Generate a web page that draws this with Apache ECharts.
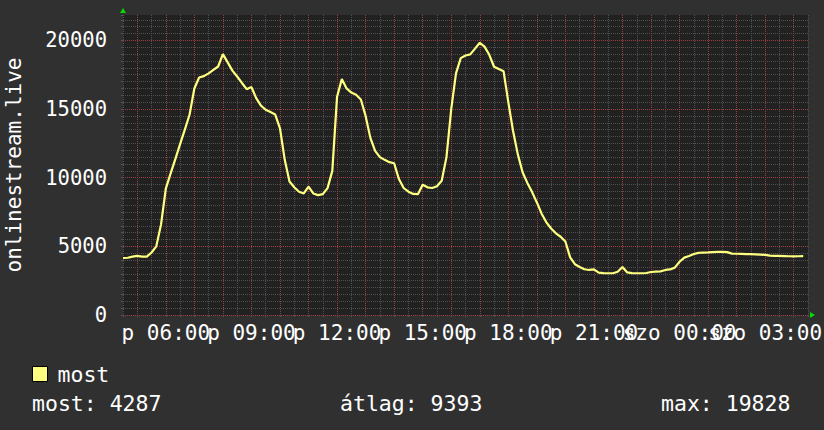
<!DOCTYPE html>
<html>
<head>
<meta charset="utf-8">
<title>onlinestream.live</title>
<script src="https://cdn.jsdelivr.net/npm/echarts@6/dist/echarts.min.js"></script>
<style>
  html, body {
    margin: 0;
    padding: 0;
    background: #303030;
  }
  #chart {
    width: 824px;
    height: 430px;
  }
  /* pontozott rácsvonalak pixelre igazítva, mint az rrdtool-nál */
  #chart svg path[stroke-dasharray] {
    shape-rendering: crispEdges;
  }
</style>
</head>
<body>
<div id="chart"></div>
<script>
// minták 10 percenként, 04:30-tól
const startHour = 4.5;
const endHour = 28.5;
const stepMinutes = 10;
const viewers = [
  4150, 4170, 4250, 4300, 4250, 4250, 4550, 5000, 6600, 9200,
  10300, 11350, 12450, 13500, 14600, 16500, 17300, 17400, 17600, 17850,
  18100, 19000, 18400, 17800, 17370, 16900, 16450, 16600, 15800, 15250,
  14950, 14780, 14600, 13600, 11300, 9720, 9300, 8980, 8850, 9350,
  8850, 8730, 8800, 9240, 10500, 15900, 17180, 16500, 16200, 16040,
  15700, 14500, 12900, 11950, 11500, 11300, 11130, 11050, 9900, 9250,
  8980, 8820, 8800, 9480, 9300, 9250, 9380, 9780, 11500, 15000,
  17600, 18710, 18900, 18980, 19400, 19828, 19550, 18950, 18080, 17920,
  17760, 15500, 13400, 11700, 10400, 9620, 8950, 8200, 7380, 6750,
  6300, 5950, 5700, 5350, 4200, 3700, 3500, 3330, 3280, 3320,
  3080, 3050, 3040, 3040, 3150, 3500, 3100, 3050, 3040, 3040,
  3060, 3130, 3160, 3180, 3280, 3320, 3450, 3880, 4180, 4300,
  4440, 4520, 4550, 4560, 4580, 4600, 4600, 4580, 4470, 4460,
  4450, 4440, 4430, 4420, 4400, 4380, 4320, 4310, 4300, 4290,
  4280, 4270, 4280, 4287
];

const xLabelHours = [6, 9, 12, 15, 18, 21, 24, 27];
const xLabels = ['p 06:00', 'p 09:00', 'p 12:00', 'p 15:00', 'p 18:00', 'p 21:00', 'szo 00:00', 'szo 03:00'];
const yLabels = [0, 5000, 10000, 15000, 20000];

const statNames = ['most', 'átlag', 'max'];
const statValues = [4287, 9393, 19828];

const font = 'DejaVu Sans Mono';
const lineColor = '#ffff80';
const minorGrid = '#505050';
const majorGrid = '#9a3e3e';

const points = viewers.map((v, i) => [startHour + i * stepMinutes / 60, v]);

// félórás rácshelyek a piros (egész órás) vonalakhoz
const halfHourSlots = [];
for (let h = startHour; h <= endHour + 1e-9; h += 0.5) {
  halfHourSlots.push(String(h));
}

const chart = echarts.init(document.getElementById('chart'), null, { renderer: 'svg' });

const hiddenAxis = {
  z: 3,
  axisLine: { show: false },
  axisTick: { show: false },
  axisLabel: { show: false }
};

const option = {
  backgroundColor: '#303030',
  animation: false,
  grid: {
    left: 123,
    right: 16,
    top: 15,
    bottom: 115,
    show: true,
    backgroundColor: '#212121',
    borderWidth: 0,
    containLabel: false,
    outerBoundsMode: 'none'
  },
  legend: {
    data: [{
      name: 'most',
      icon: 'rect',
      itemStyle: { color: lineColor, borderColor: '#000', borderWidth: 1 }
    }],
    left: 32,
    top: 363,
    padding: 0,
    itemWidth: 15,
    itemHeight: 15,
    textStyle: {
      color: '#fff',
      fontFamily: font,
      fontSize: 21.5,
      lineHeight: 21,
      padding: [0, 0, 0, 5]
    }
  },
  xAxis: [{
    type: 'value',
    z: 1,
    min: startHour,
    max: endHour,
    interval: 0.5,
    axisLine: {
      show: true,
      symbol: ['none', 'triangle'],
      symbolSize: [6, 5],
      symbolOffset: [0, 4.5],
      lineStyle: { color: '#00dd00', width: 0 }
    },
    axisTick: { show: true, length: 2, lineStyle: { color: '#555' } },
    axisLabel: {
      color: '#fff',
      fontFamily: font,
      fontSize: 21,
      margin: 7,
      hideOverlap: false,
      formatter: function (v) {
        const i = xLabelHours.findIndex(h => Math.abs(h - v) < 1e-6);
        return i >= 0 ? xLabels[i] : '';
      }
    },
    splitLine: {
      show: true,
      lineStyle: { color: minorGrid, type: [1, 1], width: 1 }
    }
  }, Object.assign({
    type: 'category',
    position: 'top',
    data: halfHourSlots,
    boundaryGap: false,
    splitLine: {
      show: true,
      interval: function (index) { return index % 2 === 1; },
      lineStyle: { color: majorGrid, type: [1, 1], width: 1 }
    }
  }, hiddenAxis)],
  yAxis: [{
    type: 'value',
    z: 1,
    min: 0,
    max: 21850,
    interval: 500,
    name: 'onlinestream.live',
    nameLocation: 'middle',
    nameGap: 99,
    nameTextStyle: {
      color: '#fff',
      fontFamily: font,
      fontSize: 21
    },
    axisLine: {
      show: true,
      symbol: ['none', 'triangle'],
      symbolSize: [6, 5],
      symbolOffset: [0, 4.5],
      lineStyle: { color: '#00dd00', width: 0 }
    },
    axisTick: { show: true, length: 2, lineStyle: { color: '#555' } },
    axisLabel: {
      color: '#fff',
      fontFamily: font,
      fontSize: 20.5,
      margin: 16,
      formatter: function (v) {
        return yLabels.indexOf(v) >= 0 ? String(v) : '';
      }
    },
    splitLine: {
      show: true,
      showMaxLine: false,
      lineStyle: { color: minorGrid, type: [1, 1], width: 1 }
    }
  }, Object.assign({
    type: 'value',
    position: 'left',
    min: 0,
    max: 21850,
    interval: 5000,
    splitLine: {
      show: true,
      showMaxLine: false,
      lineStyle: { color: majorGrid, type: [1, 1], width: 1 }
    }
  }, hiddenAxis)],
  series: [{
    name: 'most',
    type: 'line',
    xAxisIndex: 0,
    yAxisIndex: 0,
    data: points,
    showSymbol: false,
    symbol: 'none',
    lineStyle: { color: lineColor, width: 2.2 },
    itemStyle: { color: lineColor },
    z: 5
  }],
  // a GPRINT sor: most / átlag / max
  graphic: [
    { type: 'text', left: 32, top: 392, style: { text: statNames[0] + ': ' + statValues[0], fill: '#fff', font: '21.5px "' + font + '"' } },
    { type: 'text', left: 340, top: 392, style: { text: statNames[1] + ': ' + statValues[1], fill: '#fff', font: '21.5px "' + font + '"' } },
    { type: 'text', left: 661, top: 392, style: { text: statNames[2] + ': ' + statValues[2], fill: '#fff', font: '21.5px "' + font + '"' } }
  ]
};

chart.setOption(option);
</script>
</body>
</html>
